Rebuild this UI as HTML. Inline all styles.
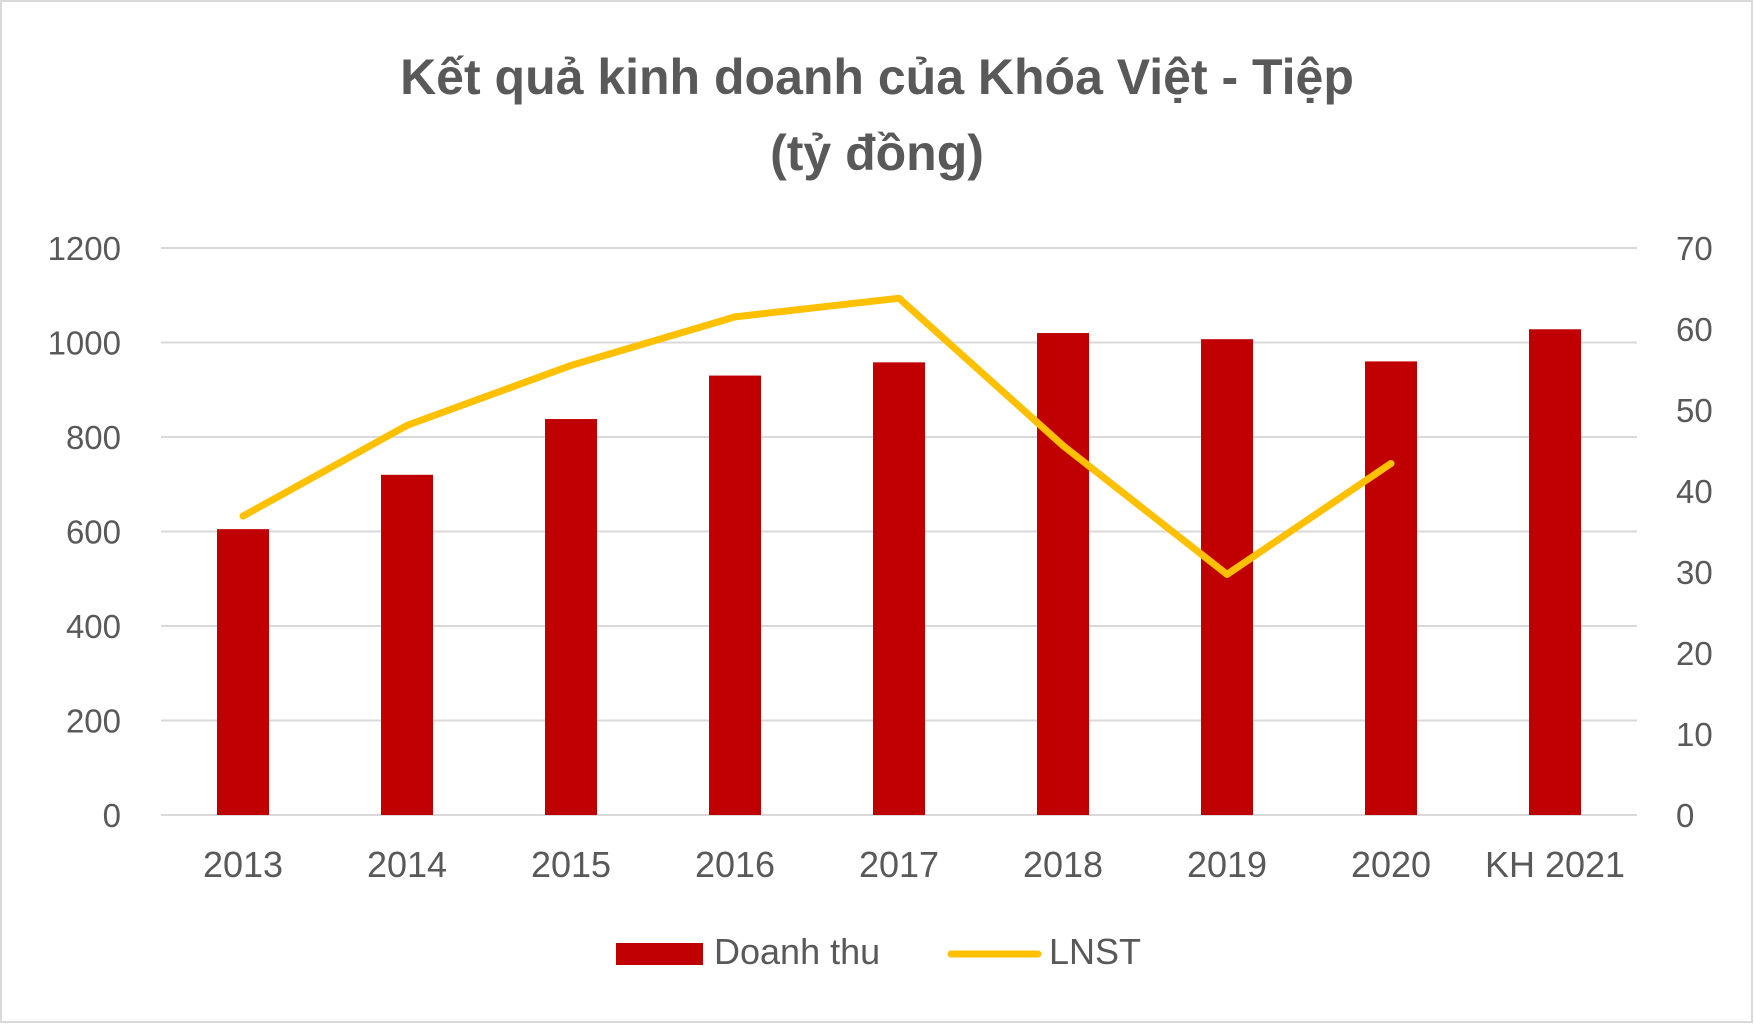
<!DOCTYPE html>
<html><head><meta charset="utf-8"><style>
html,body{margin:0;padding:0;background:#fff}
svg{display:block;font-family:"Liberation Sans",sans-serif}
</style></head><body>
<svg width="1754" height="1024" viewBox="0 0 1754 1024">
<rect x="1" y="1" width="1751" height="1021" fill="#fff" stroke="#d9d9d9" stroke-width="2"/>
<text x="877" y="94" text-anchor="middle" font-size="50" font-weight="bold" fill="#595959">Kết quả kinh doanh của Khóa Việt - Tiệp</text>
<text x="877" y="170" text-anchor="middle" font-size="50" font-weight="bold" fill="#595959">(tỷ đồng)</text>
<g id="grid"></g><g id="bars"></g><g id="line"></g><g id="labels"></g>
<g>
<rect x="616" y="943" width="87" height="22" fill="#c00000"/>
<text x="714" y="964" font-size="36" fill="#595959">Doanh thu</text>
<line x1="951" y1="954" x2="1038" y2="954" stroke="#ffc000" stroke-width="7" stroke-linecap="round"/>
<text x="1049" y="964" font-size="36" fill="#595959">LNST</text>
</g>
</svg>
<script>
const categories=["2013","2014","2015","2016","2017","2018","2019","2020","KH 2021"];
const revenue=[605,720,838,930,958,1020,1007,960,1028];
const profit=[36.9,48.1,55.5,61.5,63.8,45.6,29.7,43.4,null];
const leftTicks=[0,200,400,600,800,1000,1200];
const rightTicks=[0,10,20,30,40,50,60,70];
const NS="http://www.w3.org/2000/svg";
const L=161,R=1637,T=248,B=815;
const bw=(R-L)/categories.length;
const xc=i=>L+bw*(i+0.5);
const yl=v=>B-(v/1200)*(B-T);
const yr=v=>B-(v/70)*(B-T);
function mk(tag,attrs,parent){const e=document.createElementNS(NS,tag);for(const k in attrs)e.setAttribute(k,attrs[k]);document.getElementById(parent).appendChild(e);return e;}
leftTicks.forEach(v=>{
  const g=mk("line",{x1:L,x2:R,y1:yl(v),y2:yl(v),stroke:"#d9d9d9","stroke-width":2},"grid");
  
  
  const t=mk("text",{x:121,y:yl(v)+12,"text-anchor":"end","font-size":33,fill:"#595959"},"labels");
  t.textContent=v;
  
  
});
rightTicks.forEach(v=>{
  const t=mk("text",{x:1676,y:yr(v)+12,"font-size":33,fill:"#595959"},"labels");
  t.textContent=v;
  
  
});
categories.forEach((c,i)=>{
  const b=mk("rect",{x:xc(i)-26,y:yl(revenue[i]),width:52,height:B-yl(revenue[i]),fill:"#c00000"},"bars");
  
  
  const t=mk("text",{x:xc(i),y:877,"text-anchor":"middle","font-size":36,fill:"#595959"},"labels");
  t.textContent=c;
  
  
});
const pts=profit.map((v,i)=>v==null?null:xc(i)+","+yr(v)).filter(p=>p);
const pl=mk("polyline",{points:pts.join(" "),fill:"none",stroke:"#ffc000","stroke-width":7,"stroke-linecap":"round","stroke-linejoin":"round"},"line");


</script>
</body></html>
